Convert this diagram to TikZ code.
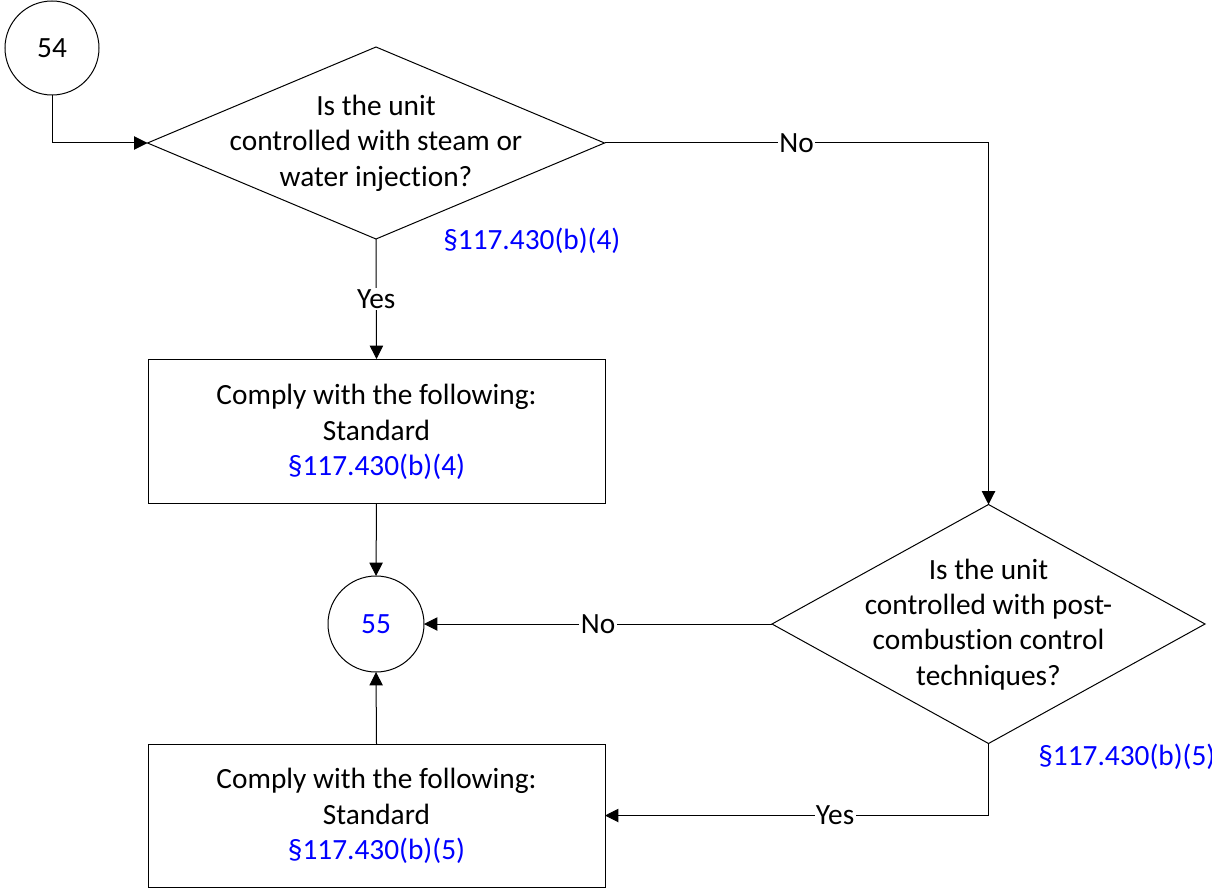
\documentclass[tikz,border=0pt]{standalone}
\usepackage{fontspec}
\setmainfont{Carlito}[Ligatures={NoCommon}]
\usetikzlibrary{shapes.geometric,arrows.meta}
\definecolor{refblue}{RGB}{0,0,255}
\begin{document}
\begin{tikzpicture}[x=0.75pt,y=-0.75pt,
  every node/.style={font=\fontsize{22}{26.5}\selectfont},
  shapeline/.style={draw=black,line width=0.75pt},
  dia/.style={shapeline,diamond,inner sep=0pt,outer sep=0pt},
  circ/.style={shapeline,circle,inner sep=0pt,outer sep=0pt},
  box/.style={shapeline,rectangle,inner sep=0pt,outer sep=0pt},
  txt/.style={align=center,inner sep=0pt},
  ref/.style={text=refblue,inner sep=0pt},
  conn/.style={line width=0.75pt,-{Triangle[length=10pt,width=10pt]}},
  lbl/.style={fill=white,inner sep=1pt}
]
\useasboundingbox (0,0) rectangle (1212,888);
\fill[white] (0,0) rectangle (1212,888);

\node[circ,minimum size=70.5pt] (c54) at (52,48) {};
\node[txt] (t54) at (c54) {54};

\node[dia,minimum width=342.75pt,minimum height=144pt] (d1) at (376,143) {};
\node[txt] (t1) at (376,143) {Is the unit\\controlled with steam or\\water injection?};
\node[ref,anchor=west] (l1) at (443,241) {§117.430(b)(4)};

\node[box,minimum width=342.75pt,minimum height=108pt] (r1) at (376.5,431) {};
\node[txt] (tr1) at (376.5,432) {Comply with the following:\\Standard\\\textcolor{refblue}{§117.430(b)(4)}};

\node[circ,minimum size=72pt] (c55) at (376,624) {};
\node[txt,text=refblue] (t55) at (c55) {55};

\node[dia,minimum width=324.75pt,minimum height=179.25pt] (d2) at (988.5,624) {};
\node[txt] (t2) at (988.5,624.5) {Is the unit\\controlled with post-\\combustion control\\techniques?};
\node[ref,anchor=west] (l2) at (1038,757) {§117.430(b)(5)};

\node[box,minimum width=342.75pt,minimum height=107.25pt] (r2) at (376.5,815.5) {};
\node[txt] (tr2) at (376.5,816) {Comply with the following:\\Standard\\\textcolor{refblue}{§117.430(b)(5)}};

\draw[conn] (c54.south) |- (d1.west);
\draw[conn] (d1.east) -| node[lbl,pos=0.25] (no1) {No} (d2.north);
\draw[conn] (d1.south) -- node[lbl] (yes1) {Yes} (r1.north);
\draw[conn] (r1.south) -- (c55.north);
\draw[conn] (d2.west) -- node[lbl] (no2) {No} (c55.east);
\draw[conn] (d2.south) |- node[lbl,pos=0.7] (yes2) {Yes} (r2.east);
\draw[conn] (r2.north) -- (c55.south);
\end{tikzpicture}
\end{document}
